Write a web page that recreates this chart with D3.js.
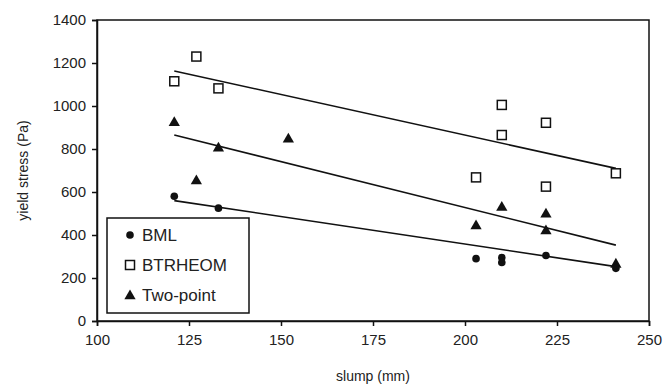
<!DOCTYPE html>
<html><head><meta charset="utf-8">
<script src="https://cdn.jsdelivr.net/npm/d3@7/dist/d3.min.js"></script>
<style>body{margin:0;background:#fff}svg text{font-family:"Liberation Sans",Arial,sans-serif;fill:#222}</style>
</head><body><svg id="c" width="668" height="389"></svg>
<script>
const xTicks = [100,125,150,175,200,225,250];
const yTicks = [0,200,400,600,800,1000,1200,1400];
const bmlX = [121,133,203,210,210,222,241];
const bmlY = [580,525,290,295,272,305,245];
const btrX = [121,127,133,203,210,210,222,222,241];
const btrY = [1115,1230,1082,668,1005,865,922,625,687];
const twoX = [121,127,133,152,203,210,222,222,241];
const twoY = [927,656,808,850,447,532,501,423,268];
const trendX = [121,241];
const bmlTrend = [560,253];
const btrTrend = [1163,710];
const twoTrend = [865,353];
const seriesNames = ["BML","BTRHEOM","Two-point"];

const svg = d3.select("#c");
const L=97,R=649,T=20,B=321;
const x = d3.scaleLinear().domain([100,250]).range([L,R]);
const y = d3.scaleLinear().domain([0,1400]).range([B,T]);

// frame
svg.append("rect").attr("x",L).attr("y",T).attr("width",R-L).attr("height",B-T)
  .attr("fill","none").attr("stroke","#111").attr("stroke-width",1.5);

const xa = svg.append("g").attr("transform",`translate(0,${B})`)
  .call(d3.axisBottom(x).tickValues(xTicks).tickFormat(d3.format("d")).tickSize(5).tickPadding(8));
const ya = svg.append("g").attr("transform",`translate(${L},0)`)
  .call(d3.axisLeft(y).tickValues(yTicks).tickFormat(d3.format("d")).tickSize(5).tickPadding(6));
[xa,ya].forEach(g=>{
  g.selectAll("path,line").attr("stroke","#111").attr("stroke-width",1.5);
  g.selectAll("text").attr("font-size",15).attr("font-family","Liberation Sans, Arial, sans-serif").attr("fill","#222");
});

svg.append("text").attr("x",(L+R)/2).attr("y",381).attr("text-anchor","middle")
  .attr("font-size",14).text("slump (mm)");
svg.append("text").attr("transform",`translate(28,${(T+B)/2}) rotate(-90)`)
  .attr("text-anchor","middle").attr("font-size",14).text("yield stress (Pa)");

// trend lines
const line = d3.line().x(d=>x(d[0])).y(d=>y(d[1]));
[bmlTrend,btrTrend,twoTrend].forEach(t=>{
  svg.append("path").attr("d",line(trendX.map((v,i)=>[v,t[i]])))
    .attr("fill","none").attr("stroke","#111").attr("stroke-width",1.6);
});

const tri = d3.symbol().type(d3.symbolTriangle).size(55);
function drawCircle(g,cx,cy){g.append("circle").attr("cx",cx).attr("cy",cy).attr("r",3.8).attr("fill","#111");}
function drawSquare(g,cx,cy){g.append("rect").attr("x",cx-4.5).attr("y",cy-4.5).attr("width",9).attr("height",9).attr("fill","#fff").attr("stroke","#111").attr("stroke-width",1.5);}
function drawTri(g,cx,cy){g.append("path").attr("d",tri()).attr("transform",`translate(${cx},${cy+1})`).attr("fill","#111");}

const pts = svg.append("g");
btrX.forEach((v,i)=>drawSquare(pts,x(v),y(btrY[i])));
twoX.forEach((v,i)=>drawTri(pts,x(v),y(twoY[i])));
bmlX.forEach((v,i)=>drawCircle(pts,x(v),y(bmlY[i])));

// legend
const lg = svg.append("g");
lg.append("rect").attr("x",107).attr("y",218).attr("width",142).attr("height",95)
  .attr("fill","#fff").attr("stroke","#111").attr("stroke-width",1.5);
const drawers=[drawCircle,drawSquare,drawTri];
seriesNames.forEach((n,i)=>{
  const cy=235+i*30;
  drawers[i](lg,130,cy);
  lg.append("text").attr("x",142).attr("y",cy).attr("dy","0.36em").attr("font-size",17).text(n);
});
</script></body></html>
